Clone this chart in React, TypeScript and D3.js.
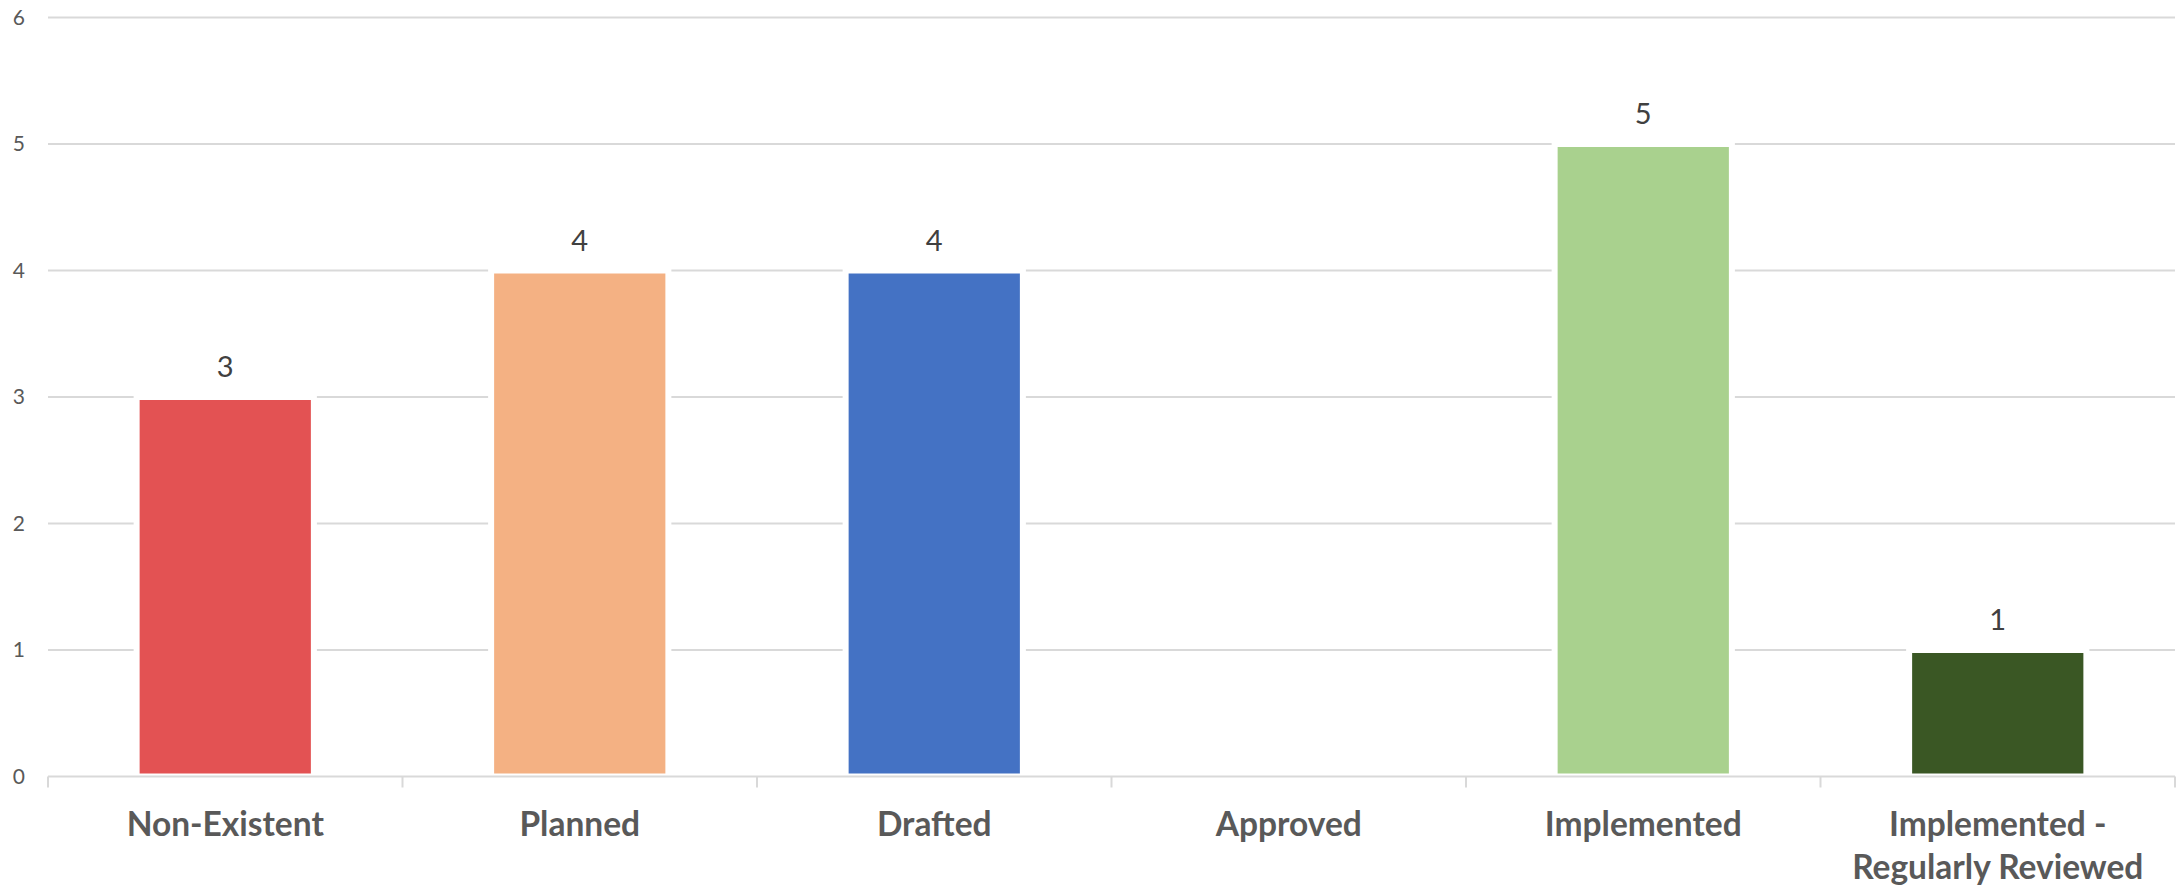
import React from "react";
import * as d3 from "d3";

const categories: string[][] = [
  ["Non-Existent"],
  ["Planned"],
  ["Drafted"],
  ["Approved"],
  ["Implemented"],
  ["Implemented -", "Regularly Reviewed"],
];
const values: number[] = [3, 4, 4, 0, 5, 1];
const colors: string[] = ["#E35253", "#F4B183", "#4472C4", "#A9D18E", "#A9D18E", "#3A5724"];
const yTicks: number[] = [0, 1, 2, 3, 4, 5, 6];

const W = 2182;
const H = 887;
const m = { left: 48, right: 7, top: 17.5, bottom: 110.5 };
const FONT = "Lato, 'Open Sans', sans-serif";

export default function App() {
  const keys = categories.map((c) => c.join(" "));
  const x = d3.scaleBand<string>().domain(keys).range([m.left, W - m.right]).paddingInner(0.5).paddingOuter(0.25);
  const xb = d3.scaleBand<string>().domain(keys).range([m.left, W - m.right]);
  const y = d3.scaleLinear().domain([0, 6]).range([H - m.bottom, m.top]);
  const y0 = y(0);

  return (
    <svg width={W} height={H} style={{ position: "absolute", left: 0, top: 0, background: "#fff" }}>
      {yTicks.map((t) => (
        <g key={t}>
          {t > 0 && (
            <line x1={m.left} x2={W - m.right} y1={y(t)} y2={y(t)} stroke="#D9D9D9" strokeWidth={2} />
          )}
          <text x={25} y={y(t)} dy="0.35em" textAnchor="end" fontFamily={FONT} fontSize={21} fill="#595959">
            {t}
          </text>
        </g>
      ))}
      {keys.map((k, i) =>
        values[i] > 0 ? (
          <g key={k}>
            <rect
              x={x(k)!}
              y={y(values[i])}
              width={x.bandwidth()}
              height={y0 - y(values[i])}
              fill={colors[i]}
              stroke="#fff"
              strokeWidth={6}
            />
            <text
              x={x(k)! + x.bandwidth() / 2}
              y={y(values[i]) - 20}
              textAnchor="middle"
              fontFamily={FONT}
              fontSize={29}
              fill="#404040"
            >
              {values[i]}
            </text>
          </g>
        ) : null
      )}
      <line x1={m.left} x2={W - m.right} y1={y0} y2={y0} stroke="#D9D9D9" strokeWidth={2} />
      {[...keys.map((k) => xb(k)!), W - m.right].map((px, i) => (
        <line key={i} x1={px} x2={px} y1={y0} y2={y0 + 11} stroke="#D9D9D9" strokeWidth={2} />
      ))}
      {categories.map((lines, i) => (
        <text
          key={i}
          x={xb(keys[i])! + xb.bandwidth() / 2}
          y={836}
          textAnchor="middle"
          fontFamily={FONT}
          fontWeight="bold"
          fontSize={33.5}
          fill="#595959"
        >
          {lines.map((l, j) => (
            <tspan key={j} x={xb(keys[i])! + xb.bandwidth() / 2} dy={j === 0 ? 0 : 43}>
              {l}
            </tspan>
          ))}
        </text>
      ))}
    </svg>
  );
}
